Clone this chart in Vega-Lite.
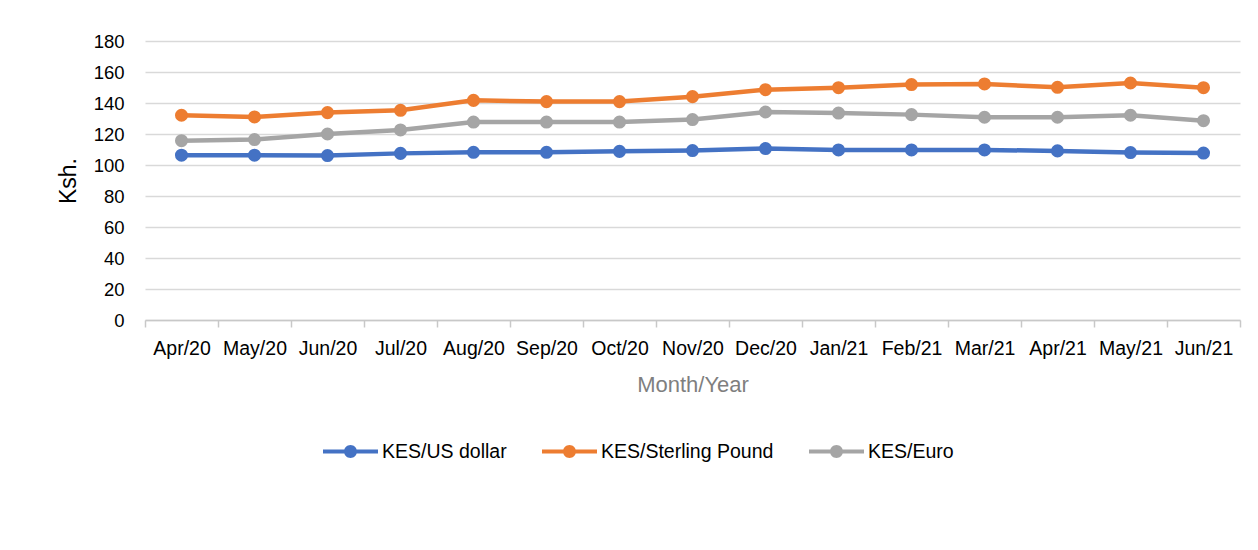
{
  "$schema": "https://vega.github.io/schema/vega-lite/v6.json",
  "width": 1095,
  "height": 279,
  "autosize": {"type": "none"},
  "padding": {"left": 145, "top": 41, "right": 18, "bottom": 230},
  "background": "white",
  "config": {
    "font": "Liberation Sans",
    "view": {"stroke": null}
  },
  "data": {
    "values": [
      {"month": "Apr/20", "series": "KES/US dollar", "rate": 106.3},
      {"month": "May/20", "series": "KES/US dollar", "rate": 106.3},
      {"month": "Jun/20", "series": "KES/US dollar", "rate": 106.1},
      {"month": "Jul/20", "series": "KES/US dollar", "rate": 107.5},
      {"month": "Aug/20", "series": "KES/US dollar", "rate": 108.2},
      {"month": "Sep/20", "series": "KES/US dollar", "rate": 108.2},
      {"month": "Oct/20", "series": "KES/US dollar", "rate": 108.8},
      {"month": "Nov/20", "series": "KES/US dollar", "rate": 109.3},
      {"month": "Dec/20", "series": "KES/US dollar", "rate": 110.6},
      {"month": "Jan/21", "series": "KES/US dollar", "rate": 109.7},
      {"month": "Feb/21", "series": "KES/US dollar", "rate": 109.7},
      {"month": "Mar/21", "series": "KES/US dollar", "rate": 109.7},
      {"month": "Apr/21", "series": "KES/US dollar", "rate": 109.1},
      {"month": "May/21", "series": "KES/US dollar", "rate": 108.0},
      {"month": "Jun/21", "series": "KES/US dollar", "rate": 107.7},
      {"month": "Apr/20", "series": "KES/Sterling Pound", "rate": 132.1},
      {"month": "May/20", "series": "KES/Sterling Pound", "rate": 131.0},
      {"month": "Jun/20", "series": "KES/Sterling Pound", "rate": 133.8},
      {"month": "Jul/20", "series": "KES/Sterling Pound", "rate": 135.3},
      {"month": "Aug/20", "series": "KES/Sterling Pound", "rate": 141.7},
      {"month": "Sep/20", "series": "KES/Sterling Pound", "rate": 140.9},
      {"month": "Oct/20", "series": "KES/Sterling Pound", "rate": 140.9},
      {"month": "Nov/20", "series": "KES/Sterling Pound", "rate": 144.1},
      {"month": "Dec/20", "series": "KES/Sterling Pound", "rate": 148.6},
      {"month": "Jan/21", "series": "KES/Sterling Pound", "rate": 149.9},
      {"month": "Feb/21", "series": "KES/Sterling Pound", "rate": 151.9},
      {"month": "Mar/21", "series": "KES/Sterling Pound", "rate": 152.3},
      {"month": "Apr/21", "series": "KES/Sterling Pound", "rate": 150.1},
      {"month": "May/21", "series": "KES/Sterling Pound", "rate": 152.9},
      {"month": "Jun/21", "series": "KES/Sterling Pound", "rate": 149.9},
      {"month": "Apr/20", "series": "KES/Euro", "rate": 115.7},
      {"month": "May/20", "series": "KES/Euro", "rate": 116.4},
      {"month": "Jun/20", "series": "KES/Euro", "rate": 120.0},
      {"month": "Jul/20", "series": "KES/Euro", "rate": 122.6},
      {"month": "Aug/20", "series": "KES/Euro", "rate": 127.7},
      {"month": "Sep/20", "series": "KES/Euro", "rate": 127.7},
      {"month": "Oct/20", "series": "KES/Euro", "rate": 127.7},
      {"month": "Nov/20", "series": "KES/Euro", "rate": 129.3},
      {"month": "Dec/20", "series": "KES/Euro", "rate": 134.2},
      {"month": "Jan/21", "series": "KES/Euro", "rate": 133.5},
      {"month": "Feb/21", "series": "KES/Euro", "rate": 132.5},
      {"month": "Mar/21", "series": "KES/Euro", "rate": 130.8},
      {"month": "Apr/21", "series": "KES/Euro", "rate": 130.8},
      {"month": "May/21", "series": "KES/Euro", "rate": 132.1},
      {"month": "Jun/21", "series": "KES/Euro", "rate": 128.6}
    ]
  },
  "mark": {"type": "line", "strokeWidth": 4.5, "point": {"filled": true, "size": 170, "opacity": 1}},
  "encoding": {
    "x": {
      "field": "month",
      "type": "ordinal",
      "sort": null,
      "scale": {"type": "band", "paddingInner": 0, "paddingOuter": 0},
      "axis": {
        "title": "Month/Year",
        "titleFontSize": 22,
        "titleFontWeight": "normal",
        "titleColor": "#7f7f7f",
        "titlePadding": 17,
        "labelAngle": 0,
        "labelFontSize": 19.5,
        "labelColor": "#000000",
        "labelPadding": 12,
        "labelLimit": 200,
        "tickBand": "extent",
        "tickSize": 7,
        "tickColor": "#c8c8c8",
        "tickWidth": 1.5,
        "domainColor": "#c8c8c8",
        "domainWidth": 1.5,
        "grid": false
      }
    },
    "y": {
      "field": "rate",
      "type": "quantitative",
      "scale": {"domain": [0, 180], "nice": false, "zero": true},
      "axis": {
        "title": "Ksh.",
        "titleFontSize": 23,
        "titleFontWeight": "normal",
        "titleColor": "#000000",
        "titlePadding": 13,
        "values": [0, 20, 40, 60, 80, 100, 120, 140, 160, 180],
        "labelFontSize": 18.5,
        "labelColor": "#000000",
        "labelPadding": 21,
        "ticks": false,
        "domain": false,
        "grid": true,
        "gridColor": "#d9d9d9",
        "gridWidth": 1.5
      }
    },
    "color": {
      "field": "series",
      "type": "nominal",
      "scale": {
        "domain": ["KES/US dollar", "KES/Sterling Pound", "KES/Euro"],
        "range": ["#4472C4", "#ED7D31", "#A5A5A5"]
      },
      "legend": {
        "title": null,
        "orient": "none",
        "direction": "horizontal",
        "legendX": 178,
        "legendY": 383,
        "symbolType": "M-1,-0.073H1V0.073H-1Z M-0.236,0A0.236,0.236 0 1,1 0.236,0A0.236,0.236 0 1,1 -0.236,0Z",
        "symbolSize": 3025,
        "symbolStrokeWidth": 0,
        "labelFontSize": 19.5,
        "labelLimit": 400,
        "labelColor": "#000000",
        "labelOffset": 4,
        "columnPadding": 35,
        "encode": {
          "symbols": {
            "update": {
              "fill": {"scale": "color", "field": "value"},
              "stroke": {"value": "transparent"},
              "strokeWidth": {"value": 0},
              "opacity": {"value": 1}
            }
          }
        }
      }
    }
  }
}
